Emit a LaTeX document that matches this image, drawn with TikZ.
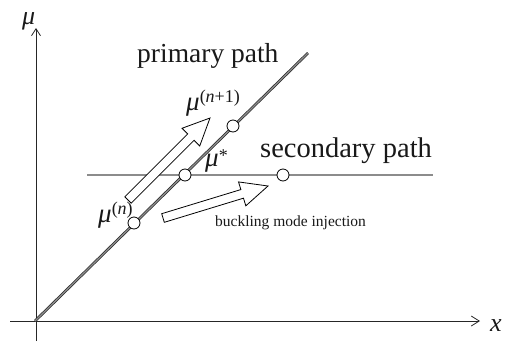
\documentclass[tikz,border=0pt]{standalone}
\usepackage{fontspec}
\setmainfont{Liberation Serif}
\usetikzlibrary{arrows.meta,calc}
\newcommand\mulab[2]{\fontsize{27}{30}\selectfont\textit{μ}\raisebox{#2}{\fontsize{18}{18}\selectfont #1}}
\newcommand\hollowarrow[2]{%
  \draw[hollow] ($(#1)!4.5pt!90:(#2)$) -- ($($(#2)!27pt!(#1)$)!4.5pt!-90:(#1)$)
    -- ($($(#2)!27pt!(#1)$)!12.5pt!-90:(#1)$) -- (#2)
    -- ($($(#2)!27pt!(#1)$)!12.5pt!90:(#1)$) -- ($($(#2)!27pt!(#1)$)!4.5pt!90:(#1)$)
    -- ($(#1)!4.5pt!-90:(#2)$) -- cycle;}
\begin{document}
\begin{tikzpicture}[x=1pt,y=-1pt,
  axis/.style={draw=black!85, line width=0.8pt},
  pathline/.style={draw=black!85, line width=0.7pt, double=black!45, double distance=1.3pt},
  pt/.style={circle, draw=black, fill=white, line width=0.8pt, minimum size=12pt, inner sep=0pt},
  hollow/.style={draw=black, fill=white, line width=0.8pt, line join=miter},
  lab/.style={inner sep=0pt, text=black!90}]
\useasboundingbox (0,0) rectangle (507,341);
% axes
\coordinate (O) at (36,321);
\coordinate (ybot) at (36,341);
\coordinate (ytop) at (36,28);
\coordinate (xl) at (10,321);
\coordinate (xr) at (480,321);
\draw[axis, -{Straight Barb[length=7pt,width=9pt]}] (ybot) -- (ytop);
\draw[axis, -{Straight Barb[length=8pt,width=10pt]}] (xl) -- (xr);
\node[lab, anchor=base west] (mu) at (22,24) {\fontsize{26}{30}\selectfont\textit{μ}};
\node[lab, anchor=base west] (xlab) at (490,331) {\fontsize{26}{30}\selectfont\textit{x}};
% paths
\coordinate (P0) at (35,321);
\coordinate (P1) at (308,53);
\coordinate (S0) at (87,175);
\coordinate (S1) at (433,175);
\draw[pathline] (P0) -- (P1);
\draw[pathline] (S0) -- (S1);
% hollow arrows
\coordinate (A1) at (128,200);
\coordinate (B1) at (210,118);
\coordinate (A2) at (163,218);
\coordinate (B2) at (268,186);
\hollowarrow{A1}{B1}
\hollowarrow{A2}{B2}
% points
\node[pt] (n0) at (134,223) {};
\node[pt] (n1) at (185,175) {};
\node[pt] (n2) at (233,126) {};
\node[pt] (n3) at (283,175) {};
% labels
\node[lab, anchor=base west] (prim) at (137,62) {\fontsize{27.5}{30}\selectfont primary path};
\node[lab, anchor=base west] (sec) at (260,157) {\fontsize{28.5}{30}\selectfont secondary path};
\node[lab, anchor=base west] (buck) at (215,226) {\fontsize{15.5}{18}\selectfont buckling mode injection};
\node[lab, anchor=base west] (mun1) at (186,110) {\mulab{(\textit{n}+1)}{8pt}};
\node[lab, anchor=base west] (mus) at (205,166) {\mulab{*}{5pt}};
\node[lab, anchor=base west] (mun) at (98,222) {\mulab{(\textit{n})}{8pt}};
\end{tikzpicture}
\end{document}
